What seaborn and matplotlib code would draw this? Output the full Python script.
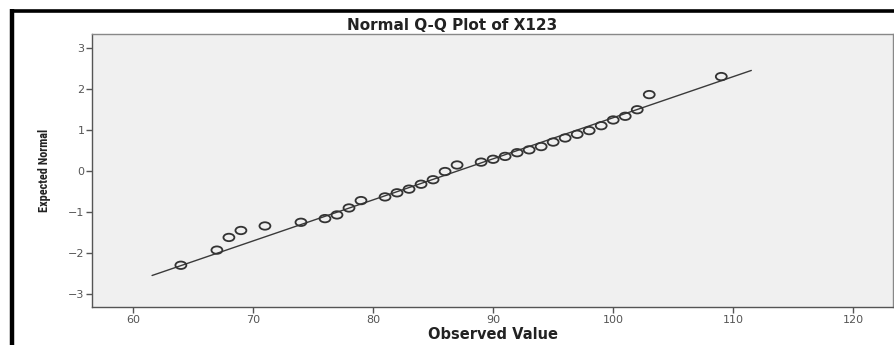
"""Normal Q-Q plot of X123, redrawn with seaborn."""

import matplotlib
matplotlib.use("Agg")
import matplotlib.pyplot as plt
import numpy as np
import pandas as pd
import seaborn as sns
from matplotlib import font_manager
from matplotlib.lines import Line2D
from matplotlib.markers import MarkerStyle
from matplotlib.path import Path


observed = [64, 67, 68, 69, 71, 74, 76, 77, 78, 79, 81, 82, 83, 84, 85, 86, 87,
            89, 90, 91, 92, 93, 94, 95, 96, 97, 98, 99, 100, 101, 102, 103, 109]
expected = [-2.31, -1.94, -1.63, -1.46, -1.35, -1.26, -1.17, -1.08, -0.91, -0.73,
            -0.64, -0.54, -0.45, -0.33, -0.22, -0.02, 0.14, 0.21, 0.28, 0.35,
            0.44, 0.51, 0.59, 0.70, 0.80, 0.89, 0.98, 1.10, 1.24, 1.33, 1.49,
            1.86, 2.30]

# reference line end points
line_x = [61.6, 111.5]
line_y = [-2.56, 2.45]

x_ticks = [60, 70, 80, 90, 100, 110, 120]
y_ticks = [-3, -2, -1, 0, 1, 2, 3]

points = pd.DataFrame({"observed": observed, "expected": expected})
ref_line = pd.DataFrame({"x": line_x, "y": line_y})

sns.set_theme(style="ticks")
plt.rcParams["font.family"] = ["DejaVu Sans"]

# narrow face for the y label if one is installed
installed = {f.name for f in font_manager.fontManager.ttflist}
narrow = next((n for n in ["Liberation Sans Narrow", "Roboto Condensed",
                           "Open Sans Condensed", "DejaVu Sans"] if n in installed),
              "DejaVu Sans")

fig = plt.figure(figsize=(8.95, 3.45), dpi=100)
ax = fig.add_axes([0.1028, 0.1101, 0.895, 0.7913])
ax.set_facecolor("#f0f0f0")

# squashed circle, the source picture is stretched sideways
circle = Path.unit_circle()
oval = MarkerStyle(Path(circle.vertices * np.array([1.0, 0.68]), circle.codes))

sns.lineplot(data=ref_line, x="x", y="y", ax=ax, color="#3a3a3a", linewidth=1.0,
             estimator=None, sort=False)
sns.scatterplot(data=points, x="observed", y="expected", ax=ax, marker=oval,
                s=62, facecolor="none", edgecolor="#333333", linewidth=1.3,
                zorder=3)

ax.set_xlim(56.6, 123.3)
ax.set_ylim(-3.33, 3.34)
ax.set_xticks(x_ticks)
ax.set_yticks(y_ticks)
ax.tick_params(axis="both", direction="out", length=4, width=1, color="#555555",
               labelsize=8, labelcolor="#555555", pad=1.5)

for side in ["left", "bottom"]:
    ax.spines[side].set_color("#555555")
for side in ["top", "right"]:
    ax.spines[side].set_color("#888888")
for spine in ax.spines.values():
    spine.set_linewidth(1.0)

ax.set_xlabel("Observed Value", fontsize=10.5, fontweight="bold", labelpad=2,
              color="#222222")
ax.set_ylabel("Expected Normal", fontsize=8.8, fontweight="bold", labelpad=12,
              family=narrow, fontstretch="condensed", color="#222222")
fig.text(0.505, 0.925, "Normal Q-Q Plot of X123", ha="center", va="center",
         fontsize=11, fontweight="bold", color="#222222")

# black frame along the left and top of the image
fig.add_artist(Line2D([12.5 / 895, 12.5 / 895], [0, 1 - 9 / 345], color="black",
                      linewidth=3.2, solid_capstyle="butt",
                      transform=fig.transFigure))
fig.add_artist(Line2D([11 / 895, 894 / 895], [1 - 10.5 / 345, 1 - 10.5 / 345],
                      color="black", linewidth=2.6, solid_capstyle="butt",
                      transform=fig.transFigure))

fig.savefig("out.png", dpi=100)
